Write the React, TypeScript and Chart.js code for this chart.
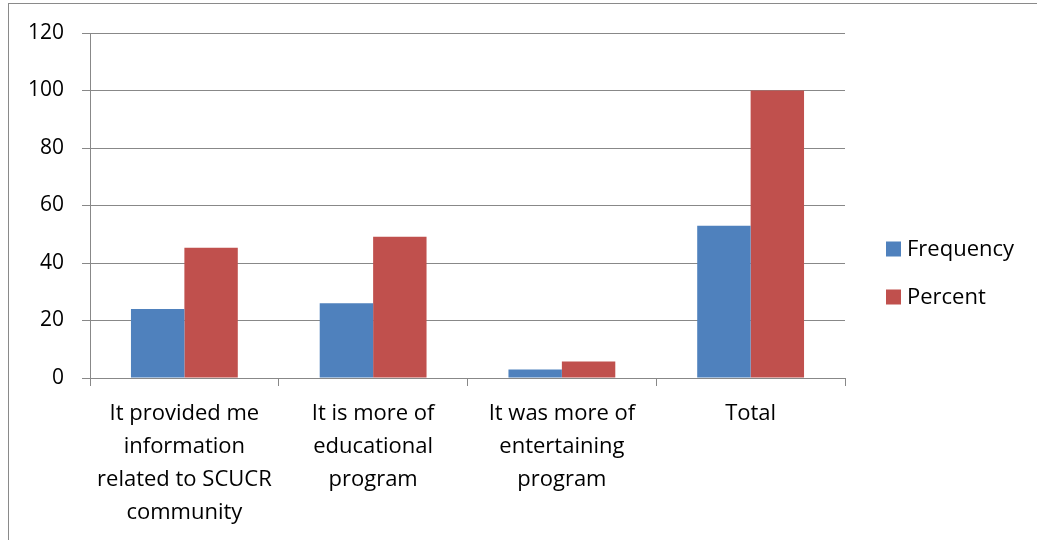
import React, { useEffect, useRef } from "react";
import { Chart, registerables } from "chart.js";

Chart.register(...registerables);

const categories: (string | string[])[] = [
  ["It provided me", "information", "related to SCUCR", "community"],
  ["It is more of", "educational", "program"],
  ["It was more of", "entertaining", "program"],
  "Total",
];
const frequency = [24, 26, 3, 53];
const percent = [45.3, 49.1, 5.7, 100];
const yTicks = [0, 20, 40, 60, 80, 100, 120];

const FONT = "'Open Sans', Lato, sans-serif";

const legendPlugin = {
  id: "customLegend",
  afterDraw(chart: any) {
    const ctx = chart.ctx;
    const items = chart.data.datasets;
    ctx.save();
    ctx.font = `22px ${FONT}`;
    ctx.textBaseline = "middle";
    ctx.textAlign = "left";
    items.forEach((ds: any, i: number) => {
      const cy = 249 + i * 48;
      ctx.fillStyle = ds.backgroundColor;
      ctx.fillRect(886, cy - 7.5, 15, 15);
      ctx.fillStyle = "#000";
      ctx.fillText(ds.label, 907, cy + 1);
    });
    ctx.restore();
  },
};

export default function App() {
  const ref = useRef<HTMLCanvasElement | null>(null);
  useEffect(() => {
    if (!ref.current) return;
    const chart = new Chart(ref.current, {
      type: "bar",
      data: {
        labels: categories,
        datasets: [
          { label: "Frequency", data: frequency, backgroundColor: "#4F81BD", borderWidth: 0 },
          { label: "Percent", data: percent, backgroundColor: "#C0504D", borderWidth: 0 },
        ],
      },
      options: {
        animation: false,
        responsive: false,
        maintainAspectRatio: false,
        layout: { padding: { top: 33, right: 192, bottom: 0, left: 0 } },
        datasets: { bar: { categoryPercentage: 0.566, barPercentage: 1 } },
        plugins: { legend: { display: false }, tooltip: { enabled: false } },
        scales: {
          x: {
            grid: { drawOnChartArea: false, drawTicks: true, tickLength: 8, color: "#888", offset: true },
            border: { color: "#888", width: 1 },
            ticks: {
              color: "#000",
              font: { family: FONT, size: 22, lineHeight: 1.5 },
              padding: 11,
              maxRotation: 0,
              autoSkip: false,
            },
            afterFit(scale: any) {
              scale.height = 162;
            },
          },
          y: {
            min: 0,
            max: 120,
            afterBuildTicks(scale: any) {
              scale.ticks = yTicks.map((v) => ({ value: v }));
            },
            grid: { color: "#888", tickLength: 8, lineWidth: 1 },
            border: { color: "#888", width: 1 },
            ticks: {
              color: "#000",
              font: { family: FONT, size: 21 },
              padding: 18,
            },
            afterFit(scale: any) {
              scale.width = 90;
            },
          },
        },
      },
      plugins: [legendPlugin],
    });
    return () => chart.destroy();
  }, []);
  return (
    <div style={{ position: "absolute", left: 0, top: 0, width: 1037, height: 540, overflow: "hidden" }}>
      <div
        style={{
          position: "absolute",
          left: 8,
          top: 3,
          width: 1100,
          height: 600,
          borderLeft: "1px solid #8a8a8a",
          borderTop: "1px solid #8a8a8a",
        }}
      />
      <canvas ref={ref} width={1037} height={540} style={{ position: "absolute", left: 0, top: 0 }} />
    </div>
  );
}
